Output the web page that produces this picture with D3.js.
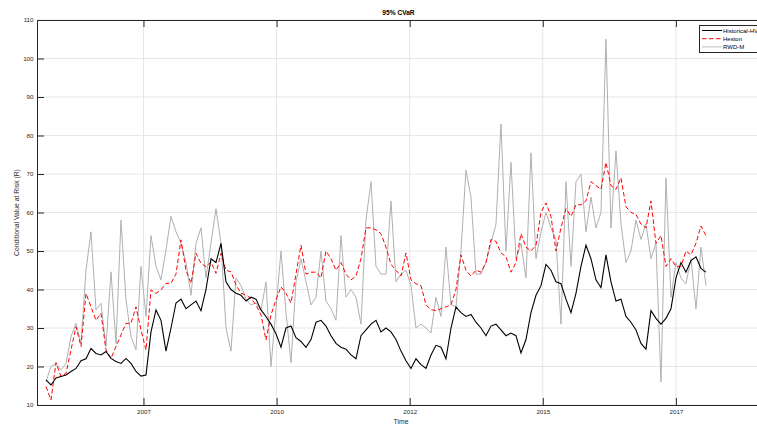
<!DOCTYPE html>
<html>
<head>
<meta charset="utf-8">
<script src="https://cdn.jsdelivr.net/npm/d3@7"></script>
<style>
  body { margin: 0; background: #fff; }
  svg { display: block; }
  text { font-family: "Liberation Sans", Arial, sans-serif; }
</style>
</head>
<body>
<svg width="757" height="426"></svg>
<script>
// series names, in legend order
const seriesNames = ["Historical-HVaR", "Heston", "RWD-M"];

// x ticks (decimal year) and the labels printed under them
const xTickValues = [2007, 2009.5, 2012, 2014.5, 2017];
const xTickLabels = ["2007", "2010", "2012", "2015", "2017"];
const yTickValues = [10, 20, 30, 40, 50, 60, 70, 80, 90, 100, 110];

// sampling of the series (decimal year of first sample, step in years)
const startYear = 2005.169;
const stepYear = 0.09391;

const hvar = [
  16.5, 15.2, 17, 17.4, 17.8, 18.7, 19.5, 21.5, 22, 24.7, 23.4, 23, 23.9, 22.1, 21.3, 20.8, 22.1, 20.8, 18.7, 17.5, 17.8, 29, 34.7, 32, 24, 30,
  36.5, 37.5, 35, 36, 37, 34.5, 40, 48, 47, 52, 42, 40, 39, 38.5, 37, 38, 37.5, 34.7, 33, 31, 28.5, 25, 30, 30.5, 27.5, 26.5,
  25, 27, 31.5, 32, 30.5, 28, 26, 25, 24.5, 23, 22, 28, 29.5, 31, 32, 29, 30, 29, 27, 24, 21.5, 19.5, 22, 20.5, 19.5, 23,
  25.5, 25, 22, 30, 35.5, 34, 33, 33.5, 31.5, 30, 28, 30.5, 31, 29.5, 28, 28.7, 28, 23.5, 27, 34, 38.5, 41, 46.5, 45, 42, 41.5,
  37.5, 34, 39, 46, 51.5, 48, 42.5, 40.5, 49, 42, 37, 37.5, 33, 31.5, 29.5, 26, 24.5, 34.5, 32.5, 31, 32.5, 35, 43, 47, 44.5, 47.5, 48.5, 45.5, 44.5
];
const heston = [
  14.8, 11.3, 21, 17.4, 18.2, 24.3, 30.3, 25.2, 39, 35.5, 32, 33.8, 24.3, 22.1, 25.2, 28.2, 31.2, 31.2, 35.5, 29.5, 24.3, 39.9, 39, 39.9, 41.6, 41.6,
  44, 52.9, 45, 41.6, 49.4, 46.8, 45.9, 47.2, 44.2, 49.4, 45, 44.6, 41.2, 39, 38.6, 37.7, 36, 33.4, 26.9, 33.4, 37.3, 40.7, 39, 36.5, 44, 51.5,
  44, 44.5, 44.5, 43, 50, 48, 45, 47, 44, 42.5, 43.5, 48, 56, 56, 55.5, 54.5, 51, 46.5, 45, 43.5, 49.5, 42.5, 41.5, 41, 36, 34.8,
  34.5, 35, 35.5, 36, 40, 49, 45, 43.5, 45, 44.5, 47, 53, 52.5, 49.5, 48.5, 44.5, 47, 54.5, 51, 50, 51.5, 60, 62.5, 59, 50, 56,
  61, 59, 62, 62, 63, 68, 67, 66, 73, 67, 66, 69, 61.5, 60, 59.5, 57, 56, 63, 52, 54, 46, 48, 46, 46, 50, 49, 52, 56.5, 54
];
const rwdm = [
  16, 20, 20.8, 19.1, 20.8, 27.7, 31.2, 26, 45, 55, 34.7, 36.4, 25.2, 44.6, 26, 58, 37.3, 27.8, 24.3, 46, 33, 54, 46, 42.5, 50.3, 59,
  55, 52, 47, 38.5, 52, 56, 43, 52, 61, 52, 30, 24, 43, 41, 37.5, 36, 36.5, 34.5, 42, 20, 35, 50, 34, 21, 42, 48,
  42, 36, 38, 50, 37, 35, 32, 54, 38, 40, 38, 31, 58, 68, 46, 44, 44, 63, 42, 44, 45, 41, 30, 31, 30, 28.7,
  38, 33, 51, 36, 35.5, 50, 71, 64, 44, 44, 47, 52, 57, 83, 50, 73, 48, 52, 43, 75.5, 48, 55, 60, 56, 53, 31,
  68, 46, 68, 70, 55, 64, 56, 60, 105, 56, 76, 57, 47, 50, 58, 53, 57, 48, 52, 16, 69, 38, 47, 43, 41.5, 48, 35, 51, 41
];

const times = hvar.map((_, i) => startYear + i * stepYear);

const svg = d3.select("svg");
const plotLeft = 37, plotRight = 760, plotTop = 20, plotBottom = 405;

const x = d3.scaleLinear().domain([2005, 2018.58]).range([plotLeft, plotRight]);
const y = d3.scaleLinear().domain([10, 110]).range([plotBottom, plotTop]);

const axisColor = "#262626";
const gridColor = "#e6e6e6";

// grid
svg.append("g").selectAll("line")
  .data(yTickValues)
  .join("line")
  .attr("x1", plotLeft).attr("x2", plotRight)
  .attr("y1", d => y(d)).attr("y2", d => y(d))
  .attr("stroke", gridColor).attr("stroke-width", 1);
svg.append("g").selectAll("line")
  .data(xTickValues)
  .join("line")
  .attr("x1", d => x(d)).attr("x2", d => x(d))
  .attr("y1", plotTop).attr("y2", plotBottom)
  .attr("stroke", gridColor).attr("stroke-width", 1);

// series
const line = vals => d3.line()
  .x((d, i) => x(times[i]))
  .y(d => y(d))(vals);

svg.append("clipPath").attr("id", "clip")
  .append("rect").attr("x", plotLeft).attr("y", plotTop)
  .attr("width", plotRight - plotLeft).attr("height", plotBottom - plotTop);

const plot = svg.append("g").attr("clip-path", "url(#clip)");
plot.append("path").attr("d", line(rwdm))
  .attr("fill", "none").attr("stroke", "#b0b0b0").attr("stroke-width", 1);
plot.append("path").attr("d", line(heston))
  .attr("fill", "none").attr("stroke", "#ff0000").attr("stroke-width", 1)
  .attr("stroke-dasharray", "4.5,2.5");
plot.append("path").attr("d", line(hvar))
  .attr("fill", "none").attr("stroke", "#000").attr("stroke-width", 1.1);

// axes
const styleAxis = g => {
  g.select(".domain").attr("stroke", axisColor);
  g.selectAll(".tick line").attr("stroke", axisColor);
  g.selectAll(".tick text").attr("fill", axisColor)
    .style("font-family", '"Liberation Sans", Arial, sans-serif')
    .style("font-size", "6.2px");
};

svg.append("g")
  .attr("transform", `translate(0,${plotBottom})`)
  .call(d3.axisBottom(x).tickValues(xTickValues)
    .tickFormat((d, i) => xTickLabels[i])
    .tickSizeInner(-7).tickSizeOuter(0).tickPadding(5))
  .call(styleAxis);

svg.append("g")
  .attr("transform", `translate(0,${plotTop})`)
  .call(d3.axisTop(x).tickValues(xTickValues).tickFormat("")
    .tickSizeInner(-7).tickSizeOuter(0))
  .call(styleAxis);

svg.append("g")
  .attr("transform", `translate(${plotLeft},0)`)
  .call(d3.axisLeft(y).tickValues(yTickValues)
    .tickSizeInner(-7).tickSizeOuter(0).tickPadding(3.5))
  .call(styleAxis);

// titles
svg.append("text")
  .attr("x", (plotLeft + plotRight) / 2).attr("y", 15)
  .attr("text-anchor", "middle")
  .style("font-size", "6.6px").style("font-weight", "bold")
  .attr("fill", "#000")
  .text("95% CVaR");

svg.append("text")
  .attr("x", 401).attr("y", 424)
  .attr("text-anchor", "middle")
  .style("font-size", "6.8px")
  .attr("fill", axisColor)
  .text("Time");

svg.append("text")
  .attr("transform", `translate(19,${(plotTop + plotBottom) / 2}) rotate(-90)`)
  .attr("text-anchor", "middle")
  .style("font-size", "6.8px")
  .attr("fill", axisColor)
  .text("Conditional Value at Risk (R)");

// legend
const legend = svg.append("g").attr("transform", "translate(699.5,25.5)");
legend.append("rect")
  .attr("width", 90).attr("height", 27)
  .attr("fill", "#fff").attr("stroke", axisColor).attr("stroke-width", 1);

const legendStyles = [
  { color: "#000", dash: null },
  { color: "#ff0000", dash: "4.5,2.5" },
  { color: "#c0c0c0", dash: null }
];

const rows = legend.selectAll("g.row")
  .data(seriesNames)
  .join("g")
  .attr("class", "row")
  .attr("transform", (d, i) => `translate(0,${5 + i * 8.2})`);

rows.append("line")
  .attr("x1", 2.5).attr("x2", 22.5)
  .attr("stroke", (d, i) => legendStyles[i].color)
  .attr("stroke-dasharray", (d, i) => legendStyles[i].dash)
  .attr("stroke-width", 1);

rows.append("text")
  .attr("x", 23.5).attr("y", 0).attr("dy", "0.35em")
  .style("font-size", "6px")
  .attr("fill", "#000")
  .text(d => d);
</script>
</body>
</html>
